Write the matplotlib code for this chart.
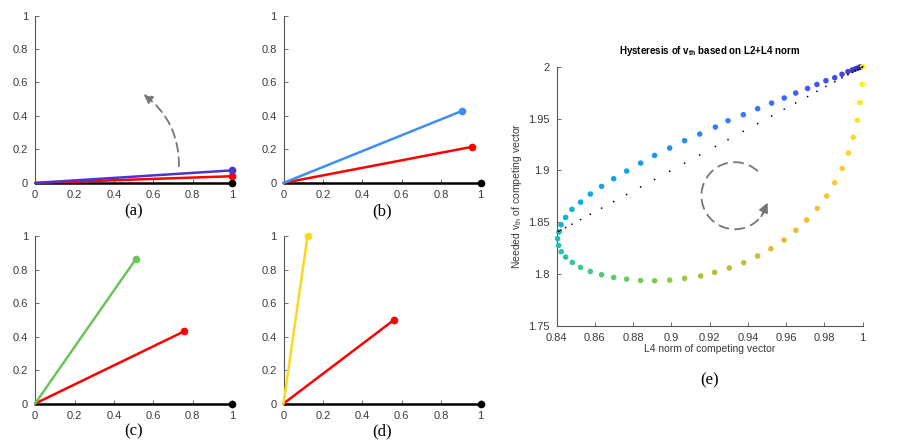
import numpy as np
import matplotlib
matplotlib.use('Agg')
import matplotlib.pyplot as plt
from matplotlib.colors import LinearSegmentedColormap
from matplotlib.patches import Arc

plt.rcParams['font.family'] = ['Liberation Sans', 'DejaVu Sans']
plt.rcParams['mathtext.fontset'] = 'custom'
plt.rcParams['mathtext.rm'] = 'Liberation Sans'
plt.rcParams['mathtext.bf'] = 'Liberation Sans:bold'

# Vektoren der Teilbilder (a)-(d): Endpunkte (x, y), alle starten im Ursprung
panel_labels = ['(a)', '(b)', '(c)', '(d)']
ref_end = [(1.0, 0.0), (1.0, 0.0), (1.0, 0.0), (1.0, 0.0)]
red_end = [(1.0, 0.04), (0.954, 0.215), (0.757, 0.432), (0.563, 0.502)]
comp_end = [(1.0, 0.075), (0.905, 0.43), (0.512, 0.865), (0.122, 1.0)]
comp_col = ['#4b36c9', '#3f8ef5', '#6cc45c', '#f7d91e']

# Teilbild (e): Hysterese, oberer Ast (blau) und unterer Ast (gruen-gelb)
upper_x = [0.9996, 0.9987, 0.9975, 0.9961, 0.9946, 0.9923, 0.9892, 0.9854,
           0.9808, 0.9761, 0.9712, 0.9650, 0.9590, 0.9524, 0.9451, 0.9376,
           0.9296, 0.9230, 0.9148, 0.9069, 0.8991, 0.8912, 0.8839, 0.8766,
           0.8698, 0.8635, 0.8576, 0.8525, 0.8480, 0.8447, 0.8423, 0.8412]
upper_y = [2.0000, 1.9997, 1.9987, 1.9978, 1.9968, 1.9952, 1.9927, 1.9894,
           1.9865, 1.9829, 1.9790, 1.9746, 1.9698, 1.9649, 1.9595, 1.9537,
           1.9479, 1.9418, 1.9350, 1.9286, 1.9215, 1.9144, 1.9070, 1.8993,
           1.8919, 1.8845, 1.8771, 1.8693, 1.8623, 1.8545, 1.8475, 1.8404]
lower_x = [0.8405, 0.8410, 0.8424, 0.8447, 0.8482, 0.8525, 0.8576, 0.8635,
           0.8698, 0.8766, 0.8839, 0.8912, 0.8991, 0.9069, 0.9153, 0.9226,
           0.9303, 0.9378, 0.9451, 0.9520, 0.9589, 0.9651, 0.9707, 0.9763,
           0.9812, 0.9854, 0.9893, 0.9925, 0.9951, 0.9972, 0.9986, 0.9998,
           1.0000]
lower_y = [1.8340, 1.8275, 1.8214, 1.8163, 1.8111, 1.8063, 1.8024, 1.7992,
           1.7966, 1.7950, 1.7937, 1.7934, 1.7940, 1.7957, 1.7980, 1.8015,
           1.8057, 1.8108, 1.8173, 1.8243, 1.8327, 1.8421, 1.8520, 1.8633,
           1.8752, 1.8880, 1.9019, 1.9167, 1.9319, 1.9483, 1.9653, 1.9830,
           2.0000]
# schwarze Punkte (Referenz)
dot_x = [1.0000] + upper_x + [0.8409]
dot_y = [2.0000, 1.9995, 1.9986, 1.9974, 1.9961, 1.9946, 1.9923, 1.9892, 1.9854,
         1.9810, 1.9762, 1.9712, 1.9650, 1.9590, 1.9524, 1.9451, 1.9376,
         1.9296, 1.9230, 1.9148, 1.9069, 1.8991, 1.8912, 1.8839, 1.8766,
         1.8698, 1.8635, 1.8576, 1.8525, 1.8480, 1.8447, 1.8423, 1.8412,
         1.8413]

e_xticks = [0.84, 0.86, 0.88, 0.9, 0.92, 0.94, 0.96, 0.98, 1]
e_yticks = [1.75, 1.8, 1.85, 1.9, 1.95, 2]
ab_ticks = [0, 0.2, 0.4, 0.6, 0.8, 1]

parula = LinearSegmentedColormap.from_list('parula_like', [
    (0.00, (0.24, 0.15, 0.66)),
    (0.10, (0.27, 0.27, 0.92)),
    (0.22, (0.22, 0.46, 0.99)),
    (0.34, (0.12, 0.60, 0.93)),
    (0.46, (0.03, 0.71, 0.84)),
    (0.54, (0.15, 0.76, 0.66)),
    (0.63, (0.36, 0.80, 0.42)),
    (0.72, (0.66, 0.77, 0.20)),
    (0.82, (0.92, 0.72, 0.22)),
    (0.92, (0.98, 0.82, 0.18)),
    (1.00, (0.98, 0.98, 0.05)),
])

AX_COL = '#555555'
TXT_COL = '#3a3a3a'


def style_axes(ax):
    for s in ['top', 'right']:
        ax.spines[s].set_visible(False)
    for s in ['left', 'bottom']:
        ax.spines[s].set_color(AX_COL)
        ax.spines[s].set_linewidth(0.8)
    ax.tick_params(direction='in', length=3, width=0.6, colors=AX_COL,
                   labelcolor=TXT_COL, labelsize=8, pad=5)


fig = plt.figure(figsize=(9, 4.44), dpi=100)

pos = [(0.039, 0.588), (0.315, 0.588), (0.039, 0.091), (0.315, 0.091)]
for i in range(4):
    ax = fig.add_axes([pos[i][0], pos[i][1], 0.219, 0.377])
    style_axes(ax)
    ax.set_xlim(0, 1)
    ax.set_ylim(0, 1)
    ax.set_xticks(ab_ticks)
    ax.set_yticks(ab_ticks)
    ax.set_xticklabels(['%g' % t for t in ab_ticks])
    ax.set_yticklabels(['%g' % t for t in ab_ticks])
    for end, col, z in [(ref_end[i], 'black', 3), (red_end[i], 'red', 4),
                        (comp_end[i], comp_col[i], 5)]:
        ax.plot([0, end[0]], [0, end[1]], color=col, lw=1.8, zorder=z,
                clip_on=False, solid_capstyle='round')
        ax.plot(end[0], end[1], 'o', color=col, ms=4.5, zorder=z,
                clip_on=False)
    ax.text(0.5, -0.12, panel_labels[i], transform=ax.transAxes,
            ha='center', va='top', fontsize=12, family=['Liberation Serif'])
    if i == 0:
        ax.annotate('', xy=(0.55, 0.53), xytext=(0.73, 0.10),
                    arrowprops=dict(arrowstyle='-|>', color='#777777', lw=1.3,
                                    linestyle=(0, (5, 3)), mutation_scale=13,
                                    connectionstyle='arc3,rad=0.25',
                                    shrinkA=0, shrinkB=0))

# Teilbild (e)
ax = fig.add_axes([0.6185, 0.2664, 0.34, 0.5833])
style_axes(ax)
ax.set_xlim(0.84, 1)
ax.set_ylim(1.75, 2)
ax.set_xticks(e_xticks)
ax.set_yticks(e_yticks)
ax.set_xticklabels(['%g' % t for t in e_xticks])
ax.set_yticklabels(['%g' % t for t in e_yticks])

loop_x = upper_x + lower_x
loop_y = upper_y + lower_y
cols = parula(np.linspace(0, 1, len(loop_x)))
ax.scatter(loop_x, loop_y, s=16, c=cols, edgecolors='none', zorder=3,
           clip_on=False)
ax.scatter(dot_x, dot_y, s=1.5, c='black', edgecolors='none', zorder=4,
           clip_on=False)

cx, cy, w, h = 0.9332, 1.8755, 0.035, 0.0647
ax.add_patch(Arc((cx, cy), w, h, theta1=63, theta2=327, color='#777777',
                 lw=1.3, linestyle=(0, (6, 3))))
a1, a2 = np.deg2rad(322), np.deg2rad(348)
ax.annotate('', xy=(cx + w / 2 * np.cos(a2), cy + h / 2 * np.sin(a2)),
            xytext=(cx + w / 2 * np.cos(a1), cy + h / 2 * np.sin(a1)),
            arrowprops=dict(arrowstyle='-|>', color='#777777', lw=1.3,
                            mutation_scale=14, shrinkA=0, shrinkB=0))

ax.set_title('Hysteresis of v$_{\\mathbf{th}}$ based on L2+L4 norm',
             fontsize=7, fontweight='bold', pad=9)
ax.set_xlabel('L4 norm of competing vector', fontsize=7.5, color=TXT_COL,
              labelpad=1)
ax.set_ylabel('Needed v$_{\\mathrm{th}}$ of competing vector', fontsize=7.5,
              color=TXT_COL, labelpad=3)
ax.text(0.5, -0.18, '(e)', transform=ax.transAxes, ha='center', va='top',
        fontsize=12, family=['Liberation Serif'])

fig.savefig('out.png', dpi=100)
